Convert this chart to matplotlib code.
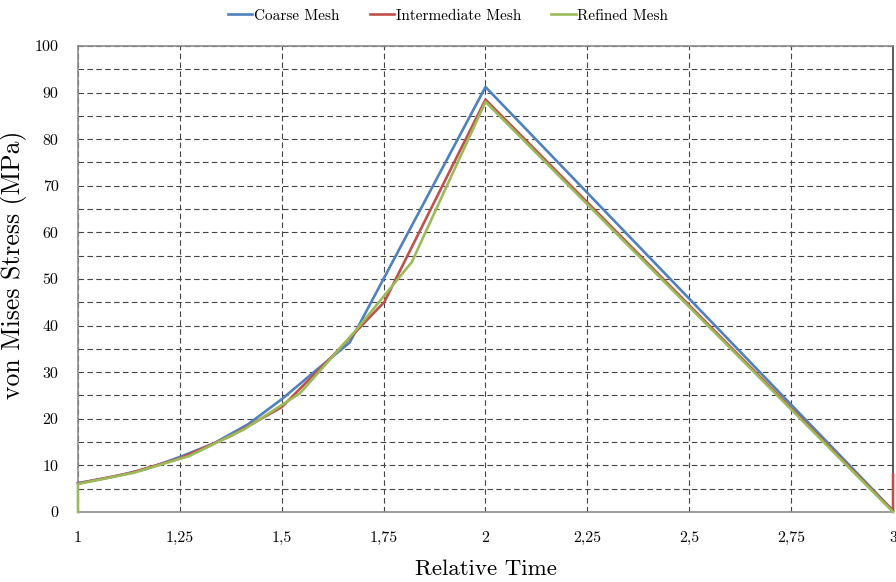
import matplotlib
matplotlib.use("Agg")
import matplotlib.pyplot as plt

plt.rcParams["font.family"] = ["cmr10", "DejaVu Serif"]
plt.rcParams["mathtext.fontset"] = "cm"
plt.rcParams["axes.unicode_minus"] = False

# Stress history for each mesh density
coarse_t = [1.0, 1.083, 1.167, 1.25, 1.333, 1.417, 1.5, 1.583, 1.667, 2.0, 3.0]
coarse_s = [6.2, 7.5, 9.2, 11.8, 14.7, 18.8, 24.2, 30.3, 36.4, 91.2, 0.3]

inter_t = [1.0, 1.125, 1.25, 1.375, 1.5, 1.625, 1.752, 2.0, 3.0, 3.0]
inter_s = [6.1, 8.3, 11.5, 16.3, 22.5, 33.5, 45.1, 88.5, 0.2, 8.0]

refined_t = [1.0, 1.0, 1.136, 1.273, 1.409, 1.545, 1.682, 1.819, 2.0, 3.0]
refined_s = [0.0, 6.0, 8.4, 12.0, 17.8, 25.5, 39.0, 53.6, 88.0, 0.0]

x_ticks = [1.0, 1.25, 1.5, 1.75, 2.0, 2.25, 2.5, 2.75, 3.0]
x_labels = ["1", "1,25", "1,5", "1,75", "2", "2,25", "2,5", "2,75", "3"]
y_ticks = list(range(0, 101, 10))

fig = plt.figure(figsize=(8.96, 5.82), dpi=100)
ax = fig.add_axes([0.087, 0.1203, 0.9097, 0.8007])

line_kw = dict(lw=1.9, zorder=5, clip_on=False)
ax.plot(coarse_t, coarse_s, color="#4F81BD", label="Coarse Mesh", **line_kw)
ax.plot(inter_t, inter_s, color="#C0504D", label="Intermediate Mesh", **line_kw)
ax.plot(refined_t, refined_s, color="#9BBB59", label="Refined Mesh", **line_kw)

ax.set_xlim(1, 3)
ax.set_ylim(0, 100)
ax.set_xticks(x_ticks)
ax.set_xticklabels(x_labels)
ax.set_yticks(y_ticks)
ax.set_yticks(range(5, 100, 10), minor=True)
ax.tick_params(axis="both", which="both", length=0, labelsize=11.5)
ax.tick_params(axis="x", pad=14)
ax.tick_params(axis="y", pad=14)

grid_kw = dict(color="#444444", linestyle=(0, (5, 3)), linewidth=0.8)
ax.grid(True, which="major", axis="both", **grid_kw)
ax.grid(True, which="minor", axis="y", **grid_kw)
ax.set_axisbelow(True)

for side in ["left", "bottom", "top"]:
    ax.spines[side].set_color("#8c8c8c")
    ax.spines[side].set_linewidth(1.2)
ax.spines["right"].set_color("#404040")
ax.spines["right"].set_linewidth(1.2)

ax.set_xlabel("Relative Time", fontsize=16.5, labelpad=10)
ax.set_ylabel("von Mises Stress (MPa)", fontsize=18.5)
ax.yaxis.set_label_coords(-0.063, 0.53)

fig.legend(loc="upper center", bbox_to_anchor=(0.5, 1.008), ncol=3, frameon=False,
           fontsize=11, handlelength=1.6, handletextpad=0.1, columnspacing=2.0)

fig.savefig("out.png", dpi=100)
